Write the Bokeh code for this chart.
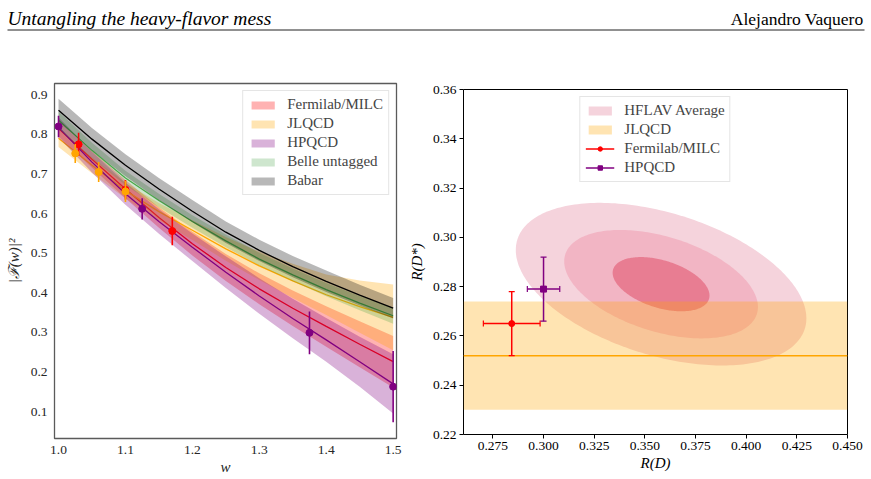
import numpy as np
from bokeh.plotting import figure
from bokeh.layouts import column, row
from bokeh.models import (Range1d, FixedTicker, PrintfTickFormatter, Legend, LegendItem)
from bokeh.core.properties import value
from bokeh.embed import file_html
from bokeh.resources import INLINE

# ---------------- header texts ----------------
title_left = "Untangling the heavy-flavor mess"
title_right = "Alejandro Vaquero"

# ---------------- left panel: |F(w)|^2 vs w ----------------
w_grid = [1.00, 1.05, 1.10, 1.15, 1.20, 1.25, 1.30, 1.35, 1.40, 1.45, 1.50]
fnal_c = [0.815, 0.737, 0.662, 0.590, 0.524, 0.464, 0.410, 0.361, 0.315, 0.270, 0.226]
fnal_e = [0.020, 0.021, 0.023, 0.026, 0.030, 0.034, 0.039, 0.045, 0.051, 0.058, 0.065]
jlqcd_c = [0.790, 0.722, 0.658, 0.605, 0.558, 0.511, 0.468, 0.430, 0.395, 0.365, 0.338]
jlqcd_e = [0.022, 0.020, 0.020, 0.022, 0.025, 0.030, 0.036, 0.043, 0.051, 0.066, 0.083]
hpqcd_c = [0.818, 0.730, 0.650, 0.580, 0.515, 0.452, 0.392, 0.335, 0.281, 0.226, 0.170]
hpqcd_e = [0.025, 0.026, 0.028, 0.031, 0.035, 0.040, 0.045, 0.050, 0.055, 0.063, 0.075]
belle_c = [0.836, 0.759, 0.690, 0.633, 0.580, 0.531, 0.485, 0.445, 0.408, 0.374, 0.342]
belle_e = [0.022, 0.020, 0.018, 0.017, 0.016, 0.016, 0.016, 0.016, 0.017, 0.018, 0.020]
babar_c = [0.861, 0.788, 0.722, 0.662, 0.606, 0.553, 0.507, 0.466, 0.429, 0.394, 0.361]
babar_e = [0.029, 0.028, 0.028, 0.028, 0.028, 0.027, 0.027, 0.027, 0.027, 0.026, 0.026]

fnal_pw = [1.03, 1.10, 1.17]
fnal_pv = [0.775, 0.660, 0.556]
fnal_pe = [0.029, 0.025, 0.036]
jlqcd_pw = [1.025, 1.06, 1.10]
jlqcd_pv = [0.752, 0.705, 0.656]
jlqcd_pe = [0.024, 0.025, 0.027]
hpqcd_pw = [1.0, 1.125, 1.375, 1.5]
hpqcd_pv = [0.820, 0.612, 0.299, 0.163]
hpqcd_pe = [0.027, 0.027, 0.054, 0.090]

left_xticks = [1.0, 1.1, 1.2, 1.3, 1.4, 1.5]
left_yticks = [0.1, 0.2, 0.3, 0.4, 0.5, 0.6, 0.7, 0.8, 0.9]
left_xlim = [0.994, 1.505]
left_ylim = [0.032, 0.9285]

# ---------------- right panel: R(D) vs R(D*) ----------------
hflav_rd, hflav_rd_err = 0.358, 0.0239
hflav_rds, hflav_rds_err = 0.281, 0.0110
hflav_rho = -0.42
hflav_levels = [3, 2, 1]
hflav_colors = ["#f5d3dc", "#f2b5c4", "#e87d92"]

jlqcd_rds, jlqcd_rds_err = 0.252, 0.022
fnal_rd, fnal_rd_err, fnal_rds, fnal_rds_err = 0.2843, 0.014, 0.265, 0.013
hpqcd_rd, hpqcd_rd_err, hpqcd_rds, hpqcd_rds_err = 0.300, 0.008, 0.279, 0.013

right_xticks = [0.275, 0.300, 0.325, 0.350, 0.375, 0.400, 0.425, 0.450]
right_yticks = [0.22, 0.24, 0.26, 0.28, 0.30, 0.32, 0.34, 0.36]
right_xlim = [0.2605, 0.45]
right_ylim = [0.22, 0.36]

SERIF = "Liberation Serif"

# ---------------- header ----------------
hdr = figure(width=871, height=40, x_range=Range1d(0, 871), y_range=Range1d(40, 0),
             output_backend="svg", toolbar_location=None, min_border=0)
hdr.axis.visible = False
hdr.grid.visible = False
hdr.outline_line_color = None
hdr.text(x=[7], y=[18], text=[title_left], text_font=value(SERIF), text_font_style="italic",
         text_font_size="19.5px", text_baseline="alphabetic", text_color="black")
hdr.text(x=[863], y=[18], text=[title_right], text_font=value(SERIF), text_align="right",
         text_font_size="17.5px", text_baseline="alphabetic", text_color="black")
hdr.segment(x0=[7], y0=[29.5], x1=[864], y1=[29.5], line_color="#222222", line_width=1)

# ---------------- left figure ----------------
pl = figure(width=405, height=439, x_range=Range1d(*left_xlim), y_range=Range1d(*left_ylim),
            output_backend="svg", toolbar_location=None,
            min_border_left=54, min_border_right=9, min_border_top=43, min_border_bottom=41)
pl.grid.visible = False
pl.outline_line_color = "#5a5a5a"
pl.outline_line_width = 1.3

def lo(c, e):
    return [a - b for a, b in zip(c, e)]

def hi(c, e):
    return [a + b for a, b in zip(c, e)]

series = [
    ("Fermilab/MILC", fnal_c, fnal_e, "red", "red", 0.30),
    ("JLQCD", jlqcd_c, jlqcd_e, "orange", "orange", 0.30),
    ("HPQCD", hpqcd_c, hpqcd_e, "purple", "purple", 0.30),
    ("Belle untagged", belle_c, belle_e, "#3a9a3a", "#4aa84a", 0.25),
    ("Babar", babar_c, babar_e, "black", "black", 0.28),
]
items = []
for name, c, e, fc, lc, fa in series:
    r = pl.varea(x=w_grid, y1=lo(c, e), y2=hi(c, e), fill_color=fc, fill_alpha=fa)
    pl.line(x=w_grid, y=c, line_color=lc, line_width=1.3)
    items.append(LegendItem(label=name, renderers=[r]))

for pw, pv, pe, col in [(fnal_pw, fnal_pv, fnal_pe, "red"),
                        (jlqcd_pw, jlqcd_pv, jlqcd_pe, "orange"),
                        (hpqcd_pw, hpqcd_pv, hpqcd_pe, "purple")]:
    pl.segment(x0=pw, y0=lo(pv, pe), x1=pw, y1=hi(pv, pe), line_color=col, line_width=1.6)
    pl.scatter(x=pw, y=pv, size=7, marker="circle", fill_color=col, line_color=col)

legl = Legend(items=items, location="top_right", margin=7, padding=5, spacing=2,
              glyph_width=29, glyph_height=10, label_standoff=10, label_height=15,
              label_text_font=SERIF, label_text_font_size="15px",
              border_line_color="#cccccc", background_fill_alpha=0.85)
pl.add_layout(legl)

for ax in [pl.xaxis[0], pl.yaxis[0]]:
    ax.axis_line_color = None
    ax.major_tick_out = 0
    ax.major_tick_in = 0
    ax.minor_tick_out = 0
    ax.minor_tick_in = 0
    ax.major_label_text_font = SERIF
    ax.major_label_text_font_size = "13.5px"
    ax.major_label_text_color = "#262626"
    ax.axis_label_text_font = SERIF
    ax.axis_label_text_font_size = "15px"
    ax.axis_label_text_font_style = "italic"
    ax.axis_label_text_color = "#262626"
pl.xaxis.ticker = FixedTicker(ticks=left_xticks)
pl.yaxis.ticker = FixedTicker(ticks=left_yticks)
pl.xaxis.formatter = PrintfTickFormatter(format="%.1f")
pl.yaxis.formatter = PrintfTickFormatter(format="%.1f")
pl.xaxis.axis_label = "w"
pl.yaxis.axis_label = "|\u2131(w)|\u00b2"
pl.xaxis.major_label_standoff = 7
pl.xaxis.axis_label_standoff = 2
pl.yaxis.major_label_standoff = 7
pl.yaxis.axis_label_standoff = 6

# ---------------- right figure ----------------
pr = figure(width=466, height=439, x_range=Range1d(*right_xlim), y_range=Range1d(*right_ylim),
            output_backend="svg", toolbar_location=None,
            min_border_left=50, min_border_right=24, min_border_top=49, min_border_bottom=45)
pr.grid.visible = False
pr.outline_line_color = "black"
pr.outline_line_width = 1

t = np.linspace(0, 2 * np.pi, 240)
ell_renderers = []
for k, col in zip(hflav_levels, hflav_colors):
    ex = hflav_rd + k * hflav_rd_err * np.cos(t)
    ey = hflav_rds + k * hflav_rds_err * (hflav_rho * np.cos(t) + np.sqrt(1 - hflav_rho ** 2) * np.sin(t))
    ell_renderers.append(pr.patch(x=ex, y=ey, fill_color=col, line_color=None))

band = pr.varea(x=right_xlim, y1=[jlqcd_rds - jlqcd_rds_err] * 2, y2=[jlqcd_rds + jlqcd_rds_err] * 2,
                fill_color="orange", fill_alpha=0.3)
pr.line(x=right_xlim, y=[jlqcd_rds] * 2, line_color="orange", line_width=1.5)

def errpt(xv, xe, yv, ye, col, marker):
    hseg = pr.segment(x0=[xv - xe], y0=[yv], x1=[xv + xe], y1=[yv], line_color=col, line_width=1.5)
    pr.segment(x0=[xv], y0=[yv - ye], x1=[xv], y1=[yv + ye], line_color=col, line_width=1.5)
    pr.scatter(x=[xv, xv], y=[yv - ye, yv + ye], marker="dash", size=6, line_color=col, line_width=1.2)
    pr.scatter(x=[xv - xe, xv + xe], y=[yv, yv], marker="dash", angle=np.pi / 2, size=6,
               line_color=col, line_width=1.2)
    s = pr.scatter(x=[xv], y=[yv], marker=marker, size=6, fill_color=col, line_color=col)
    return [hseg, s]

fn_r = errpt(fnal_rd, fnal_rd_err, fnal_rds, fnal_rds_err, "red", "circle")
hp_r = errpt(hpqcd_rd, hpqcd_rd_err, hpqcd_rds, hpqcd_rds_err, "purple", "square")

legr = Legend(items=[LegendItem(label="HFLAV Average", renderers=[ell_renderers[0]]),
                     LegendItem(label="JLQCD", renderers=[band]),
                     LegendItem(label="Fermilab/MILC", renderers=fn_r),
                     LegendItem(label="HPQCD", renderers=hp_r)],
              location="top_center", margin=7, padding=5, spacing=2,
              glyph_width=29, glyph_height=11, label_standoff=10, label_height=15,
              label_text_font=SERIF, label_text_font_size="15px",
              border_line_color="#cccccc", background_fill_alpha=0.85)
pr.add_layout(legr)

for ax in [pr.xaxis[0], pr.yaxis[0]]:
    ax.axis_line_color = None
    ax.major_tick_out = 4
    ax.major_tick_in = 0
    ax.minor_tick_out = 0
    ax.minor_tick_in = 0
    ax.major_tick_line_color = "black"
    ax.major_label_text_font = SERIF
    ax.major_label_text_font_size = "13.5px"
    ax.major_label_text_color = "black"
    ax.axis_label_text_font = SERIF
    ax.axis_label_text_font_size = "15px"
    ax.axis_label_text_font_style = "italic"
    ax.axis_label_text_color = "black"
pr.xaxis.ticker = FixedTicker(ticks=right_xticks)
pr.yaxis.ticker = FixedTicker(ticks=right_yticks)
pr.xaxis.formatter = PrintfTickFormatter(format="%.3f")
pr.yaxis.formatter = PrintfTickFormatter(format="%.2f")
pr.xaxis.axis_label = "R(D)"
pr.yaxis.axis_label = "R(D*)"
pr.xaxis.major_label_standoff = 3
pr.xaxis.axis_label_standoff = 2
pr.yaxis.major_label_standoff = 3
pr.yaxis.axis_label_standoff = 5

layout = column(hdr, row(column(pl), column(pr), spacing=0), spacing=0)
open("out.html", "w").write(file_html(layout, INLINE))
